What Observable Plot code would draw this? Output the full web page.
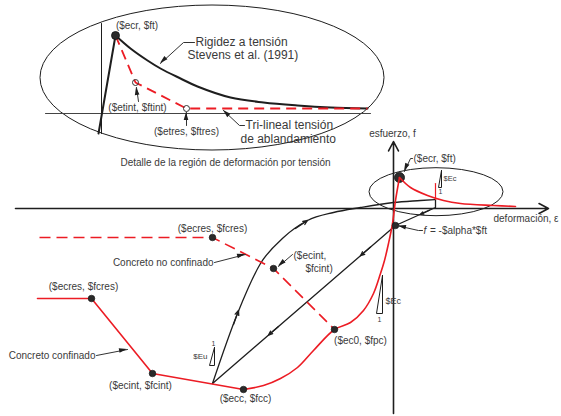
<!DOCTYPE html>
<html>
<head>
<meta charset="utf-8">
<script src="https://cdn.jsdelivr.net/npm/d3@7"></script>
<script src="https://cdn.jsdelivr.net/npm/@observablehq/plot@0.6"></script>
<style>
  html, body { margin: 0; padding: 0; background: #fff; }
  #chart { width: 561px; height: 416px; }
</style>
</head>
<body>
<div id="chart"></div>
<script>
// ---------- main stress–strain diagram (schematic units: strain ε → x, stress f → y) ----------
const confinedResidual = [[-35.6, -9.0], [-30.2, -9.0], [-24.1, -16.5], [-15.0, -18.1]];
const confinedEnvelope = [[-15.0, -18.1], [-13.0, -17.7], [-11.3, -17.0], [-9.6, -15.9], [-8.0, -14.2],
  [-5.9, -12.1], [-4.3, -11.4], [-3.0, -10.2], [-2.0, -8.5], [-1.3, -6.5], [-0.9, -5.2],
  [-0.5, -3.5], [-0.1, -1.5], [0.2, 0.8], [0.6, 3.1]];
const tensionBranch = [[0.6, 3.1], [1.7, 2.1], [3.4, 1.3], [5.0, 0.8], [6.7, 0.5], [10.0, 0.3], [12.2, 0.2]];
const tensionUnload = [[4.2, 2.5], [4.2, 0.9]];
const unconfinedEnvelope = [[-35.4, -2.9], [-18.1, -2.9], [-12.0, -6.0], [-5.9, -12.1]];
const reloadPath = [[-18.1, -17.5], [-15.6, -10.5], [-13.3, -5.5], [-11.0, -2.9], [-8.6, -1.2],
  [-6.0, -0.4], [-3.3, 0.1], [0.0, 0.6], [2.7, 0.8], [4.2, 0.9]];
const unloadPath = [[4.2, 0.9], [4.2, 0.1], [0.2, -1.7], [-18.1, -17.5]];
const keyPoints = [[-30.2, -9.0], [-24.1, -16.5], [-15.0, -18.1], [-5.9, -12.1], [-18.1, -2.9], [-12.0, -6.0], [0.2, -1.7]];
const crackPoint = [[0.6, 3.1]];
const pathArrows = [
  [[-16.0, -11.6], [-15.5, -10.2]],
  [[-9.8, -2.0], [-8.6, -1.2]],
  [[3.6, -0.17], [2.7, -0.58]],
  [[-2.3, -3.86], [-3.3, -4.72]],
  [[-11.5, -11.8], [-12.5, -12.66]]
];
const slopeTriangles = [
  [[-17.9, -13.9], [-17.9, -15.7], [-18.4, -15.7], [-17.9, -13.9]],
  [[-1.1, -6.7], [-1.1, -10.5], [-1.7, -10.5], [-1.1, -6.7]],
  [[4.8, 3.8], [4.8, 2.1], [4.5, 2.1], [4.8, 3.8]]
];
const axisX = [[-37.8, 0], [15.5, 0]];
const axisY = [[0, -20.5], [0, 6.7]];
const zoomRegion = {cx: 4.3, cy: 1.63, rx: 6.7, ry: 2.4};

const mainLeaders = [
  [[-17.9, -5.4], [-14.8, -4.6]],
  [[-10.1, -4.6], [-11.5, -5.8]],
  [[-29.7, -14.7], [-26.6, -14.1]],
  [[1.9, 5.0], [1.7, 5.0], [1.1, 3.7]],
  [[2.9, -2.2], [2.5, -2.2], [0.5, -1.75]]
];
const mainCentered = [
  ["esfuerzo, f", -0.1, 7.5],
  ["($ecres, $fcres)", -18.1, -2.0],
  ["($ecres, $fcres)", -31.0, -7.8],
  ["($ecint, $fcint)", -25.3, -17.7],
  ["($ecc, $fcc)", -14.8, -19.0],
  ["($ec0, $fpc)", -3.3, -13.2]
];
const mainLeft = [
  ["deformación, ε", 10.0, -1.0],
  ["($ecint,", -10.0, -4.7],
  ["$fcint)", -8.8, -6.0],
  ["($ecr, $ft)", 2.0, 5.0],
  ["= -$alpha*$ft", 3.65, -2.2]
];
const mainRight = [
  ["Concreto no confinado", -18.0, -5.4],
  ["Concreto confinado", -29.8, -14.7]
];
const italicSymbols = [["f", 3.0, -2.2]];
const slopeLabelsLeft = [["$Ec", -0.8, -9.3]];
const slopeLabelsRight = [["$Eu", -18.6, -14.8]];
const slopeLabelsSmall = [["$Ec", 5.0, 3.0]];
const unitLabels = [["1", -18.0, -13.5], ["1", -1.4, -11.1], ["1", 4.7, 1.7]];

// ---------- tension-region detail (own units, origin at the inset's axes) ----------
const insetRise = [[-0.3, -2.0], [1.4, 7.8]];
const stevensStiffening = [[1.4, 7.8], [2.9, 6.5], [4.6, 5.3], [5.9, 4.5], [7.9, 3.5], [9.6, 2.7],
  [12.9, 1.6], [16.2, 1.1], [19.6, 0.8], [22.9, 0.6], [26.6, 0.5]];
const trilinearSoftening = [[1.4, 7.8], [3.4, 3.1], [8.5, 0.5], [26.6, 0.5]];
const insetAxisX = [[-5.6, 0], [26.9, 0]];
const insetAxisY = [[0, 9.0], [0, -2.0]];
const softeningPoints = [[3.4, 3.1], [8.5, 0.5]];
const insetPeak = [[1.4, 7.8]];
const insetRegion = {cx: 11.1, cy: 3.55, rx: 17.2, ry: 7.25};
const insetLeaders = [
  [[9.3, 7.1], [8.2, 7.1], [5.9, 5.0]],
  [[3.7, 1.2], [3.5, 2.6]],
  [[8.5, -1.2], [8.5, 0.1]],
  [[14.3, -1.2], [13.8, -1.2], [12.2, 0.3]]
];
const insetSmallText = [
  ["($ecr, $ft)", 3.55, 8.8],
  ["($etint, $ftint)", 3.6, 0.6],
  ["($etres, $ftres)", 8.5, -1.8],
  ["Detalle de la región de deformación por tensión", 12.4, -4.9]
];
const insetNotes = [
  ["Rigidez a tensión", 9.4, 7.1],
  ["Stevens et al. (1991)", 8.6, 5.8],
  ["Tri-lineal tensión", 14.4, -1.2],
  ["de ablandamiento", 13.9, -2.6]
];

// where the inset's origin sits in the main diagram's units
const INSET_ORIGIN = [-29.2, 9.5];
const shift = pts => pts.map(([e, f]) => [e + INSET_ORIGIN[0], f + INSET_ORIGIN[1]]);
const shiftLabels = rows => rows.map(([t, e, f]) => [t, e + INSET_ORIGIN[0], f + INSET_ORIGIN[1]]);
const shiftRegion = r => ({...r, cx: r.cx + INSET_ORIGIN[0], cy: r.cy + INSET_ORIGIN[1]});

// ---------- styling ----------
const RED = "#ec1c24";
const INK = "#1e1e1e";
const TXT = "#3a3a3a";
const FONT = "'Liberation Sans', Arimo, Arial, sans-serif";

const X = d => d[0], Y = d => d[1];
const series = list => list.flatMap((pts, i) => pts.map(([a, b]) => ({a, b, id: i})));

const path = (pts, opts) => Plot.line(pts, {x: X, y: Y, strokeLinejoin: "round", strokeLinecap: "round", ...opts});
const labels = (rows, opts) => Plot.text(rows, {x: d => d[1], y: d => d[2], text: d => d[0], fill: TXT, fontFamily: FONT, fontSize: 10, ...opts});

// outlines of the highlighted regions, drawn through the plot's scales
function regions(list) {
  return (index, scales) => {
    const g = d3.create("svg:g").attr("fill", "none").attr("stroke", INK).attr("stroke-width", 1);
    for (const r of list) {
      const cx = scales.x(r.cx), cy = scales.y(r.cy);
      g.append("ellipse")
        .attr("cx", cx).attr("cy", cy)
        .attr("rx", Math.abs(scales.x(r.cx + r.rx) - cx))
        .attr("ry", Math.abs(scales.y(r.cy + r.ry) - cy));
    }
    return g.node();
  };
}

// filled, narrow heads for the annotation leaders
function leaderHeads(list) {
  return (index, scales) => {
    const g = d3.create("svg:g").attr("fill", INK);
    for (const pts of list) {
      const [pa, pb] = pts.slice(-2);
      const x0 = scales.x(pa[0]), y0 = scales.y(pa[1]);
      const x1 = scales.x(pb[0]), y1 = scales.y(pb[1]);
      const a = Math.atan2(y1 - y0, x1 - x0), L = 8, W = 2.3;
      const bx = x1 - L * Math.cos(a), by = y1 - L * Math.sin(a);
      const nx = -Math.sin(a) * W, ny = Math.cos(a) * W;
      g.append("path").attr("d", `M${x1},${y1}L${bx + nx},${by + ny}L${bx - nx},${by - ny}Z`);
    }
    return g.node();
  };
}

const allLeaders = [...mainLeaders, ...insetLeaders.map(shift)];

const chart = Plot.plot({
  width: 561,
  height: 416,
  margin: 0,
  x: {domain: [-39.3, 16.8], axis: null},
  y: {domain: [-20.8, 20.8], axis: null},
  style: {fontFamily: FONT, background: "#fff", overflow: "visible"},
  marks: [
    // highlighted regions
    regions([shiftRegion(insetRegion), zoomRegion]),

    // ----- inset: tension region detail -----
    path(shift(insetAxisX), {stroke: "#444", strokeWidth: 1}),
    path(shift(insetAxisY), {stroke: INK, strokeWidth: 1}),
    path(shift(insetRise), {stroke: INK, strokeWidth: 2}),
    path(shift(stevensStiffening), {stroke: INK, strokeWidth: 2, curve: "catmull-rom"}),
    path(shift(trilinearSoftening), {stroke: RED, strokeWidth: 1.8, strokeDasharray: "10,6", strokeLinecap: "butt"}),
    Plot.dot(shift(insetPeak), {x: X, y: Y, r: 4, fill: "#2a2a2a", stroke: "#111", strokeWidth: 0.8}),
    Plot.dot(shift(softeningPoints), {x: X, y: Y, r: 3, fill: "none", stroke: "#333", strokeWidth: 1}),

    // ----- main axes -----
    Plot.arrow([axisX], {x1: d => d[0][0], y1: d => d[0][1], x2: d => d[1][0], y2: d => d[1][1], stroke: INK, strokeWidth: 1.6, headLength: 10, headAngle: 55}),
    Plot.arrow([axisY], {x1: d => d[0][0], y1: d => d[0][1], x2: d => d[1][0], y2: d => d[1][1], stroke: INK, strokeWidth: 1.6, headLength: 10, headAngle: 55}),

    // ----- unloading / reloading loop -----
    path(reloadPath, {stroke: INK, strokeWidth: 1.3, curve: "monotone-x"}),
    path(unloadPath, {stroke: INK, strokeWidth: 1.3}),
    Plot.arrow(pathArrows, {x1: d => d[0][0], y1: d => d[0][1], x2: d => d[1][0], y2: d => d[1][1], stroke: INK, strokeWidth: 1.3, headLength: 9, headAngle: 45}),

    // crack point under the envelope
    Plot.dot(crackPoint, {x: X, y: Y, r: 5, fill: "#2e2e2e", stroke: "#111", strokeWidth: 0.8}),

    // ----- envelopes -----
    path(unconfinedEnvelope, {stroke: RED, strokeWidth: 1.6, strokeDasharray: "11,6", strokeLinecap: "butt"}),
    path(confinedResidual, {stroke: RED, strokeWidth: 1.6}),
    path(confinedEnvelope, {stroke: RED, strokeWidth: 1.6, curve: "catmull-rom"}),
    path(tensionBranch, {stroke: RED, strokeWidth: 1.6, curve: "catmull-rom"}),
    path(tensionUnload, {stroke: RED, strokeWidth: 1.2}),

    // characteristic points
    Plot.dot(keyPoints, {x: X, y: Y, r: 3.3, fill: "#2a2a2a", stroke: "#111", strokeWidth: 0.6}),

    // modulus triangles
    Plot.line(series(slopeTriangles), {x: "a", y: "b", z: "id", stroke: INK, strokeWidth: 1, strokeLinejoin: "miter"}),

    // annotation leaders
    Plot.line(series(allLeaders), {x: "a", y: "b", z: "id", stroke: "#333", strokeWidth: 1}),
    leaderHeads(allLeaders),

    // ----- text -----
    labels(mainCentered, {textAnchor: "middle"}),
    labels(mainLeft, {textAnchor: "start"}),
    labels(mainRight, {textAnchor: "end"}),
    labels(italicSymbols, {textAnchor: "start", fontStyle: "italic"}),
    labels(slopeLabelsLeft, {textAnchor: "start", fontSize: 9}),
    labels(slopeLabelsRight, {textAnchor: "end", fontSize: 8}),
    labels(slopeLabelsSmall, {textAnchor: "start", fontSize: 7.5}),
    labels(unitLabels, {textAnchor: "middle", fontSize: 7}),
    labels(shiftLabels(insetSmallText), {textAnchor: "middle", fontSize: 10}),
    labels(shiftLabels(insetNotes), {textAnchor: "start", fontSize: 12})
  ]
});

document.getElementById("chart").append(chart);
</script>
</body>
</html>
